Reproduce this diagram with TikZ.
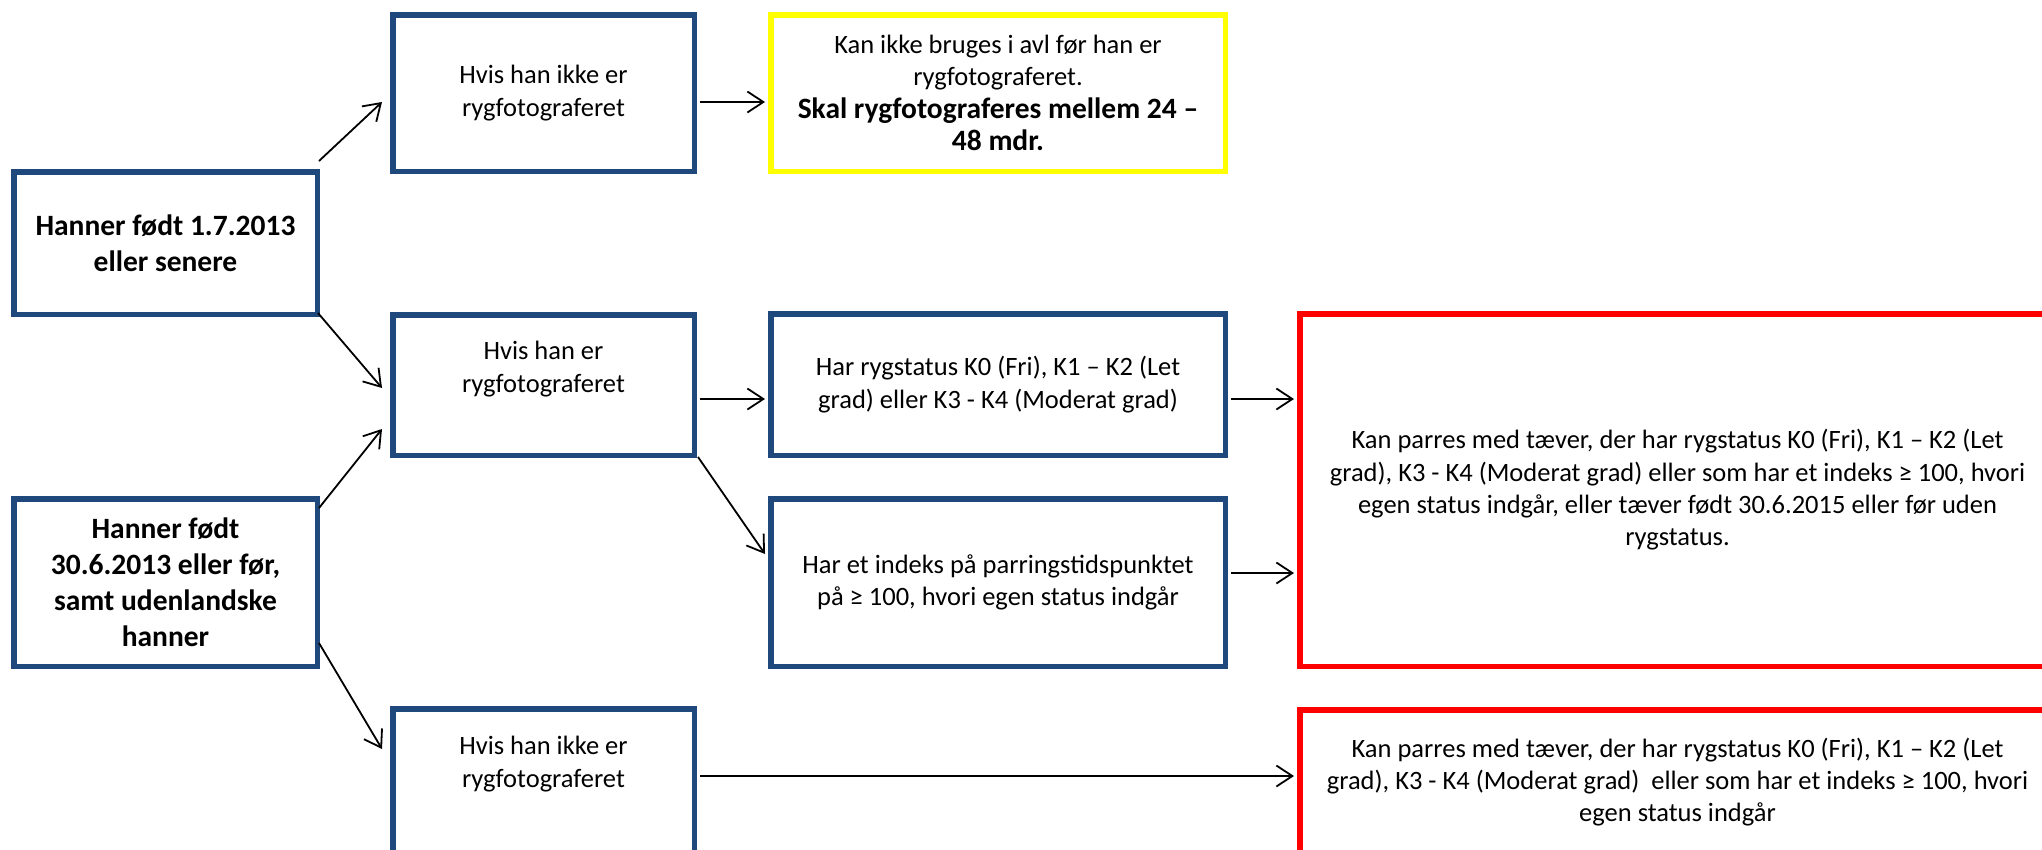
\documentclass[tikz,border=0pt]{standalone}
\usepackage{fontspec}
\setmainfont{Carlito}
\usetikzlibrary{arrows.meta,calc}
\definecolor{boxblue}{RGB}{31,73,125}
\definecolor{boxyellow}{RGB}{255,255,0}
\definecolor{boxred}{RGB}{255,0,0}
\begin{document}
\begin{tikzpicture}[x=1pt,y=-1pt,
  box/.style={draw=boxblue, line width=5.5pt, inner sep=0pt, align=center,
    font=\fontsize{26.5}{32.3}\selectfont},
  boldbox/.style={box, font=\bfseries\fontsize{29.5}{36}\selectfont},
  ybox/.style={box, draw=boxyellow},
  rbox/.style={box, draw=boxred},
  txt/.style={inner sep=0pt, align=center, font=\fontsize{26.5}{32.3}\selectfont},
  conn/.style={line width=1.8pt, -{Straight Barb[length=16pt,width=21pt,line width=1.8pt]}}
]
\path[use as bounding box, clip] (0,0) rectangle (2042,849);

\node[boldbox, minimum width=303.5pt, minimum height=142.5pt] (A) at (165.5,243)
  {Hanner født 1.7.2013\\eller senere};
\node[boldbox, minimum width=303.5pt, minimum height=167.5pt] (B) at (165.5,582.5)
  {Hanner født\\30.6.2013 eller før,\\samt udenlandske\\hanner};
\node[box, minimum width=301.5pt, minimum height=156.5pt] (C) at (543.5,93)
  {Hvis han ikke er\\rygfotograferet};
\node[ybox, minimum width=454.5pt, minimum height=156.5pt] (D) at (998,93)
  {Kan ikke bruges i avl før han er\\rygfotograferet.\\
   \textbf{\fontsize{29.5}{32.3}\selectfont Skal rygfotograferes mellem 24 –}\\
   \textbf{\fontsize{29.5}{32.3}\selectfont 48 mdr.}};
\node[box, minimum width=301.5pt, minimum height=140.5pt] (E) at (543.5,385) {};
\node[txt] (Et) at (543.5,369) {Hvis han er\\rygfotograferet};
\node[box, minimum width=454.5pt, minimum height=141.5pt] (F) at (998,384.5)
  {Har rygstatus K0 (Fri), K1 – K2 (Let\\grad) eller K3 - K4 (Moderat grad)};
\node[box, minimum width=454.5pt, minimum height=167.5pt] (G) at (998,582.5)
  {Har et indeks på parringstidspunktet\\på ≥ 100, hvori egen status indgår};
\node[rbox, minimum width=755.5pt, minimum height=352.5pt] (H) at (1677.5,490)
  {Kan parres med tæver, der har rygstatus K0 (Fri), K1 – K2 (Let\\
   grad), K3 - K4 (Moderat grad) eller som har et indeks ≥ 100, hvori\\
   egen status indgår, eller tæver født 30.6.2015 eller før uden\\
   rygstatus.};
\node[box, minimum width=301.5pt, minimum height=145.5pt] (I) at (543.5,781.5) {};
\node[txt] (It) at (543.5,764) {Hvis han ikke er\\rygfotograferet};
\node[rbox, minimum width=755.5pt, minimum height=144.5pt] (J) at (1677.5,782)
  {Kan parres med tæver, der har rygstatus K0 (Fri), K1 – K2 (Let\\
   grad), K3 - K4 (Moderat grad) \ eller som har et indeks ≥ 100, hvori\\
   egen status indgår};

\draw[conn] ($(A.north east)+(-1,-8)$) -- ($(C.west)+(-8,9)$);
\draw[conn] ($(C.east)+(3,9)$) -- ($(D.west)+(-3,9)$);
\draw[conn] ($(A.south east)+(-2,-4)$) -- ($(E.west)+(-8,3)$);
\draw[conn] ($(B.north east)+(-1,12)$) -- ($(E.west)+(-8,44)$);
\draw[conn] ($(E.east)+(3,14)$) -- ($(F.west)+(-3,14.5)$);
\draw[conn] ($(E.south east)+(1,-1)$) -- ($(G.west)+(-3,-28.5)$);
\draw[conn] ($(F.east)+(3,14.5)$) -- ($(H.west)+(-3,-91)$);
\draw[conn] ($(G.east)+(3,-9.5)$) -- ($(H.west)+(-3,83)$);
\draw[conn] ($(B.east)+(-1,60.5)$) -- ($(I.west)+(-8,-32.5)$);
\draw[conn] ($(I.east)+(3,-5.5)$) -- ($(J.west)+(-3,-6)$);
\end{tikzpicture}
\end{document}
